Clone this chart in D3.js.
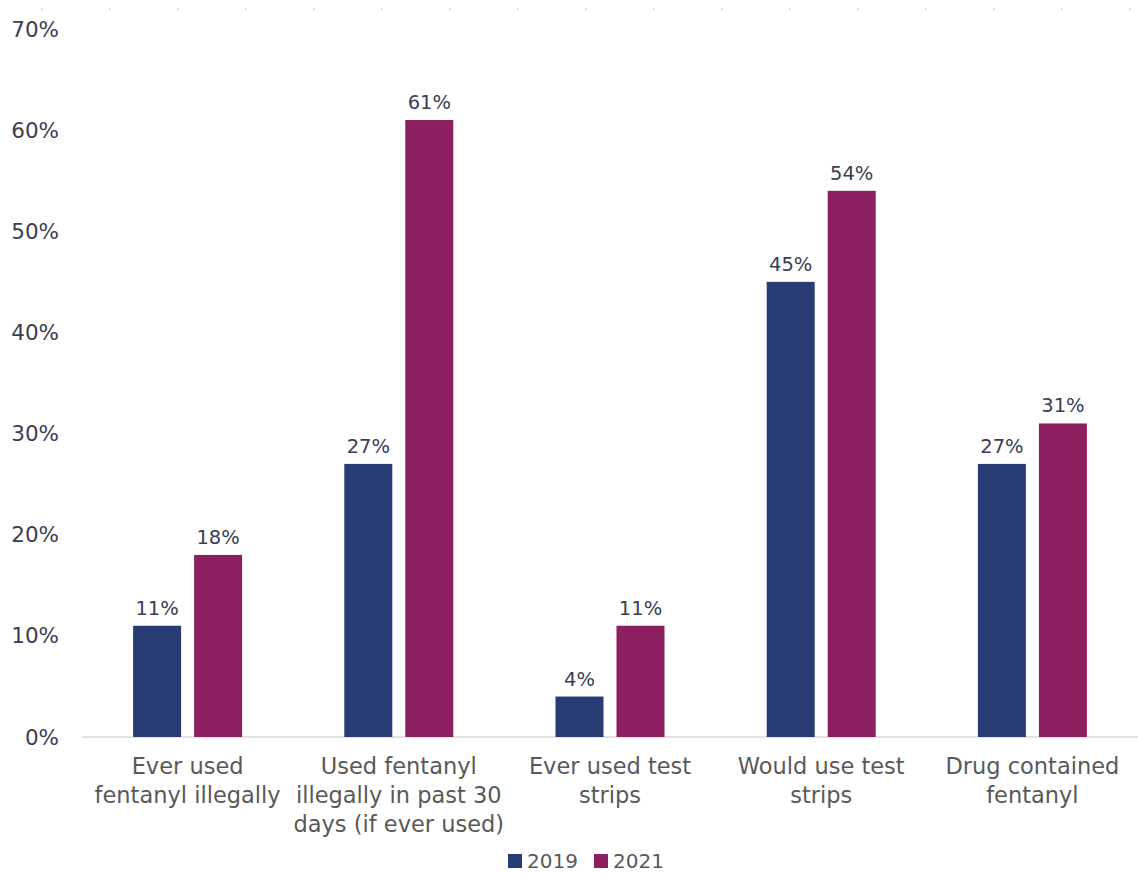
<!DOCTYPE html>
<html>
<head>
<meta charset="utf-8">
<script src="https://cdn.jsdelivr.net/npm/d3@7"></script>
<style>
  body { margin: 0; background: #fff; }
  svg { font-family: "DejaVu Sans", "Noto Sans", sans-serif; }
</style>
</head>
<body>
<div id="chart"></div>
<script>
// Data
const categories = [
  ["Ever used", "fentanyl illegally"],
  ["Used fentanyl", "illegally in past 30", "days (if ever used)"],
  ["Ever used test", "strips"],
  ["Would use test", "strips"],
  ["Drug contained", "fentanyl"]
];
const seriesNames = ["2019", "2021"];
const values2019 = [11, 27, 4, 45, 27];
const values2021 = [18, 61, 11, 54, 31];
const yTicks = [0, 10, 20, 30, 40, 50, 60, 70];
const colors = ["#283c73", "#8b1f5f"];

const width = 1138, height = 873;
const margin = { left: 82, right: 0, top: 29, bottom: 136 };

const svg = d3.select("#chart").append("svg")
  .attr("width", width)
  .attr("height", height);

const x = d3.scaleBand()
  .domain(d3.range(categories.length))
  .range([margin.left, width - margin.right]);

const y = d3.scaleLinear()
  .domain([0, 70])
  .range([height - margin.bottom, margin.top]);

// faint dotted line along the top
svg.append("line")
  .attr("x1", 41).attr("x2", width)
  .attr("y1", 9).attr("y2", 9)
  .style("stroke", "#c8c8c8")
  .style("stroke-width", 1.5)
  .style("stroke-dasharray", "1.5,66.5");

// y tick labels
svg.selectAll(".ytick")
  .data(yTicks)
  .enter().append("text")
  .attr("x", 59)
  .attr("y", d => y(d))
  .attr("dy", "0.35em")
  .attr("text-anchor", "end")
  .style("font-size", "21.5px")
  .style("fill", "#3b3e52")
  .text(d => d + "%");

// baseline
svg.append("line")
  .attr("x1", margin.left).attr("x2", width)
  .attr("y1", y(0)).attr("y2", y(0))
  .style("stroke", "#d9d9d9")
  .style("stroke-width", 1.5);

const barW = 48, gap = 13;
const series = [values2019, values2021];

series.forEach((vals, s) => {
  const off = s === 0 ? -gap / 2 - barW : gap / 2;
  svg.selectAll(".bar" + s)
    .data(vals)
    .enter().append("rect")
    .attr("x", (d, i) => x(i) + x.bandwidth() / 2 + off)
    .attr("y", d => y(d))
    .attr("width", barW)
    .attr("height", d => y(0) - y(d))
    .style("fill", colors[s]);

  svg.selectAll(".lab" + s)
    .data(vals)
    .enter().append("text")
    .attr("x", (d, i) => x(i) + x.bandwidth() / 2 + off + barW / 2)
    .attr("y", d => y(d) - 11)
    .attr("text-anchor", "middle")
    .style("font-size", "19.5px")
    .style("fill", "#3b3e52")
    .text(d => d + "%");
});

// category labels
categories.forEach((lines, i) => {
  const t = svg.append("text")
    .attr("text-anchor", "middle")
    .style("font-size", "22.5px")
    .style("fill", "#595959");
  lines.forEach((ln, j) => {
    t.append("tspan")
      .attr("x", x(i) + x.bandwidth() / 2)
      .attr("y", 774 + j * 29)
      .text(ln);
  });
});

// legend
const legend = svg.append("g");
const legX = [508, 594];
seriesNames.forEach((n, s) => {
  legend.append("rect")
    .attr("x", legX[s]).attr("y", 854)
    .attr("width", 14).attr("height", 14)
    .style("fill", colors[s]);
  legend.append("text")
    .attr("x", legX[s] + 19).attr("y", 861)
    .attr("dy", "0.35em")
    .style("font-size", "20px")
    .style("fill", "#595959")
    .text(n);
});
</script>
</body>
</html>
